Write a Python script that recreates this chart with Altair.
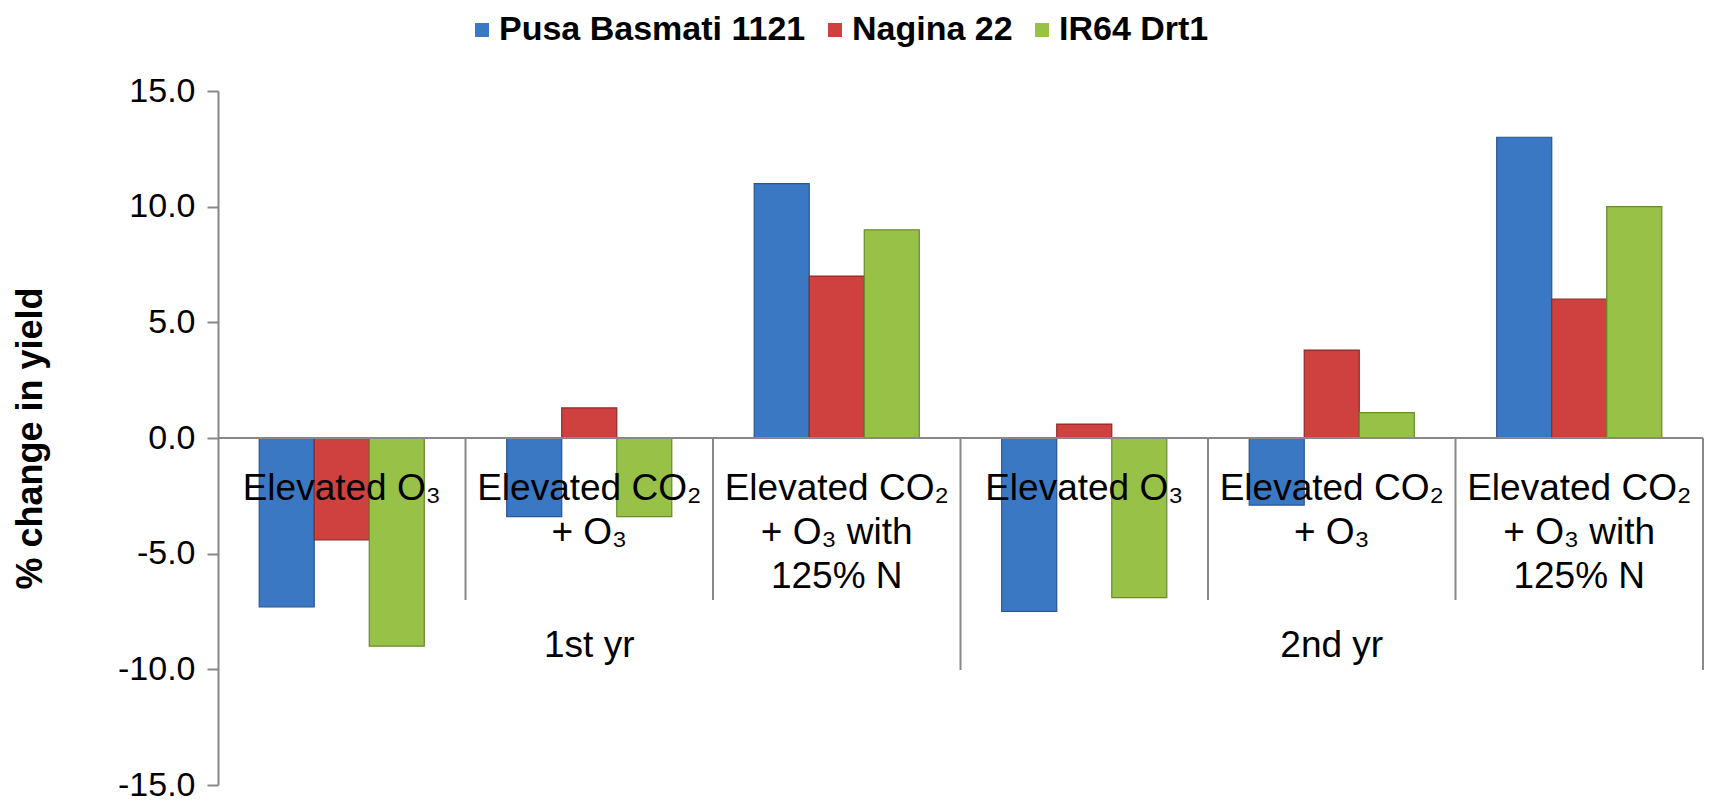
import altair as alt
import pandas as pd

groups = ["g1", "g2", "g3", "g4", "g5", "g6"]
series = ["Pusa Basmati 1121", "Nagina 22", "IR64 Drt1"]
pusa = [-7.3, -3.4, 11.0, -7.5, -2.9, 13.0]
nagina = [-4.4, 1.3, 7.0, 0.6, 3.8, 6.0]
ir64 = [-9.0, -3.4, 9.0, -6.9, 1.1, 10.0]
treatments = ["Elevated O₃", "Elevated CO₂\n+ O₃", "Elevated CO₂\n+  O₃ with\n125% N"] * 2
years = ["1st yr", "2nd yr"]
year_groups = ["g2", "g5"]
colors = ["#3B78C4", "#CF413E", "#98C147"]
strokes = ["#2A5590", "#8C2A28", "#68892C"]
y_ticks = [-15, -10, -5, 0, 5, 10, 15]

rows = []
for s, vals in zip(series, [pusa, nagina, ir64]):
    for g, v in zip(groups, vals):
        rows.append({"group": g, "series": s, "value": v})
bars_df = pd.DataFrame(rows)
labels_df = pd.DataFrame({"group": groups, "label": treatments})
years_df = pd.DataFrame({"group": year_groups, "label": years})
sep_df = pd.DataFrame({"pos": list(range(1, 7)),
                       "kind": ["short", "short", "long", "short", "short", "long"]})

FONT = "Liberation Sans"
W, H = 1485, 694
xscale = alt.Scale(domain=groups, paddingInner=0.333, paddingOuter=0.1665)
yscale = alt.Scale(domain=[-15, 15], nice=False)

bars = alt.Chart(bars_df).mark_bar(strokeWidth=1.2).encode(
    x=alt.X("group:N", scale=xscale, axis=None, sort=groups),
    xOffset=alt.XOffset("series:N", sort=series),
    y=alt.Y("value:Q", scale=yscale,
            axis=alt.Axis(values=y_ticks, grid=False, tickSize=11, tickColor="#888888",
                          domainColor="#888888", tickWidth=2, domainWidth=2,
                          labelFontSize=34, labelFont=FONT, labelColor="#000000",
                          labelPadding=12,
                          labelExpr="replace(format(datum.value, '.1f'), '−', '-')",
                          title="% change in yield", titleFont=FONT, titleFontSize=36,
                          titleFontWeight="bold", titleColor="#000000", titlePadding=68)),
    color=alt.Color("series:N", sort=series,
                    scale=alt.Scale(domain=series, range=colors),
                    legend=alt.Legend(title=None, orient="none", direction="horizontal",
                                      legendX=247, legendY=-78, columns=3,
                                      columnPadding=12, symbolType="square",
                                      symbolSize=196, symbolStrokeWidth=0,
                                      labelFont=FONT, labelFontSize=34, labelLimit=0,
                                      labelFontWeight="bold", labelColor="#000000",
                                      labelOffset=0)),
    stroke=alt.Stroke("series:N", sort=series,
                      scale=alt.Scale(domain=series, range=strokes), legend=None),
)

zero = alt.Chart(bars_df).mark_rule(color="#888888", strokeWidth=2).encode(
    y=alt.datum(0), x=alt.value(0), x2=alt.value(W)
)

cat_text = alt.Chart(labels_df).mark_text(
    font=FONT, fontSize=37, color="#000000", baseline="alphabetic",
    align="center", lineBreak="\n", lineHeight=44, dy=62
).encode(
    x=alt.X("group:N", scale=xscale, axis=None, sort=groups),
    y=alt.datum(0),
    text="label:N",
)

year_text = alt.Chart(years_df).mark_text(
    font=FONT, fontSize=37, color="#000000", baseline="alphabetic",
    align="center", dy=219
).encode(
    x=alt.X("group:N", scale=xscale, axis=None, sort=groups),
    y=alt.datum(0),
    text="label:N",
)

seps_short = alt.Chart(sep_df).transform_filter("datum.kind == 'short'").mark_rule(
    color="#888888", strokeWidth=2).encode(
    x=alt.X("pos:Q", scale=alt.Scale(domain=[0, 6]), axis=None),
    y=alt.datum(0),
    y2=alt.value(509),
)
seps_long = alt.Chart(sep_df).transform_filter("datum.kind == 'long'").mark_rule(
    color="#888888", strokeWidth=2).encode(
    x=alt.X("pos:Q", scale=alt.Scale(domain=[0, 6]), axis=None),
    y=alt.datum(0),
    y2=alt.value(579),
)

chart = alt.layer(bars, zero, seps_short, seps_long, cat_text, year_text).resolve_scale(
    x="independent", color="independent", stroke="independent"
).properties(
    width=W, height=H,
    autosize=alt.AutoSizeParams(type="none"),
    padding={"left": 210, "top": 83, "right": 2, "bottom": 19},
    background="#ffffff",
).configure_view(stroke=None)

chart.save("out.html", embed_options={"renderer": "svg", "actions": False})
